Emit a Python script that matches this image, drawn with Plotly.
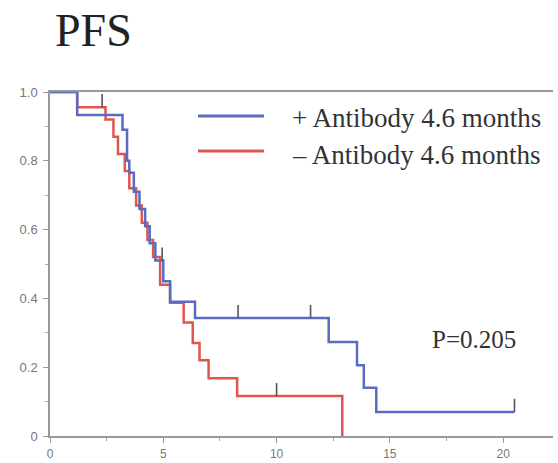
import plotly.graph_objects as go

# ---- data ----
blue_t = [0, 1.2, 3.2, 3.4, 3.5, 3.7, 3.95, 4.2, 4.4, 4.65, 5.0, 5.3, 6.4, 12.3, 13.55, 13.85, 14.4, 20.5]
blue_s = [1.0, 0.933, 0.89, 0.80, 0.765, 0.71, 0.66, 0.61, 0.56, 0.51, 0.45, 0.39, 0.343, 0.273, 0.206, 0.14, 0.07, 0.07]
red_t = [0, 1.2, 2.45, 2.8, 3.0, 3.3, 3.5, 3.8, 4.05, 4.3, 4.55, 4.86, 5.3, 5.9, 6.3, 6.6, 7.0, 8.26, 12.9]
red_s = [1.0, 0.956, 0.92, 0.87, 0.82, 0.77, 0.72, 0.67, 0.62, 0.57, 0.52, 0.44, 0.387, 0.33, 0.27, 0.22, 0.168, 0.116, 0.0]
blue_cens_t = [4.95, 8.3, 11.5, 20.5]
blue_cens_s = [0.51, 0.343, 0.343, 0.07]
red_cens_t = [2.3, 10.0]
red_cens_s = [0.956, 0.116]
legend_labels = ["+ Antibody 4.6 months", "\u2013 Antibody 4.6 months"]
title_text = "PFS"
p_text = "P=0.205"
x_ticks = [0, 5, 10, 15, 20]
y_ticks = [0, 0.2, 0.4, 0.6, 0.8, 1.0]
y_ticktext = ["0", "0.2", "0.4", "0.6", "0.8", "1.0"]

BLUE = "#5a6bc0"
RED = "#e0564c"
TICK = "#555555"
SERIF = "Liberation Serif, Times New Roman, serif"

fig = go.Figure()
fig.add_trace(go.Scatter(x=red_t, y=red_s, mode="lines", line=dict(color=RED, width=2.5, shape="hv"),
                         showlegend=False, hoverinfo="skip"))
fig.add_trace(go.Scatter(x=blue_t, y=blue_s, mode="lines", line=dict(color=BLUE, width=2.5, shape="hv"),
                         showlegend=False, hoverinfo="skip"))
for ct, cs in ((blue_cens_t, blue_cens_s), (red_cens_t, red_cens_s)):
    fig.add_trace(go.Scatter(x=ct, y=cs, mode="markers", marker=dict(size=1, color="rgba(0,0,0,0)"),
                             error_y=dict(type="constant", value=0.038, symmetric=False, valueminus=0,
                                          width=0, thickness=1.6, color=TICK),
                             showlegend=False, hoverinfo="skip"))

fig.update_layout(
    width=558, height=463,
    margin=dict(l=50, r=5, t=92, b=27),
    paper_bgcolor="white", plot_bgcolor="white",
    xaxis=dict(range=[0, 22.2], tickvals=x_ticks, ticks="outside", ticklen=5, tickcolor="#999",
               showline=True, linecolor="#999", linewidth=1.5, mirror=True, showgrid=False, zeroline=False,
               minor=dict(dtick=2.5, tick0=0, ticks="outside", ticklen=3, tickcolor="#aaa"),
               ticklabelstandoff=1, automargin=False,
               tickfont=dict(family="Liberation Sans, Arial", size=12, color="#777")),
    yaxis=dict(range=[0, 1.0], tickvals=y_ticks, ticktext=y_ticktext, ticks="outside", ticklen=5,
               tickcolor="#999", showline=True, linecolor="#999", linewidth=1.5, showgrid=False, zeroline=False,
               minor=dict(dtick=0.1, tick0=0, ticks="outside", ticklen=3, tickcolor="#aaa"),
               ticklabelstandoff=3, automargin=False,
               tickfont=dict(family="Liberation Sans, Arial", size=13, color="#777")),
)

# title
fig.add_annotation(text=title_text, xref="paper", yref="paper", x=(53-50)/503, y=1.0 + 61/344, xanchor="left",
                   yanchor="middle", showarrow=False, font=dict(family=SERIF, size=46, color="#222"))
# manual legend
for i, (lab, col) in enumerate(zip(legend_labels, [BLUE, RED])):
    ypx = [116, 151][i]
    yp = (436 - ypx) / 344
    fig.add_shape(type="line", xref="paper", yref="paper", x0=(198-50)/503, x1=(264-50)/503, y0=yp, y1=yp,
                  line=dict(color=col, width=3))
    fig.add_annotation(text=lab, xref="paper", yref="paper", x=(290-50)/503, y=(436 - [118, 155][i]) / 344,
                       xanchor="left", yanchor="middle", showarrow=False,
                       font=dict(family=SERIF, size=27, color="#333"))
# p-value
fig.add_annotation(text=p_text, xref="paper", yref="paper", x=(430-50)/503, y=(436-339)/344,
                   xanchor="left", yanchor="middle", showarrow=False, font=dict(family=SERIF, size=25, color="#333"))

fig.write_html("out.html")
